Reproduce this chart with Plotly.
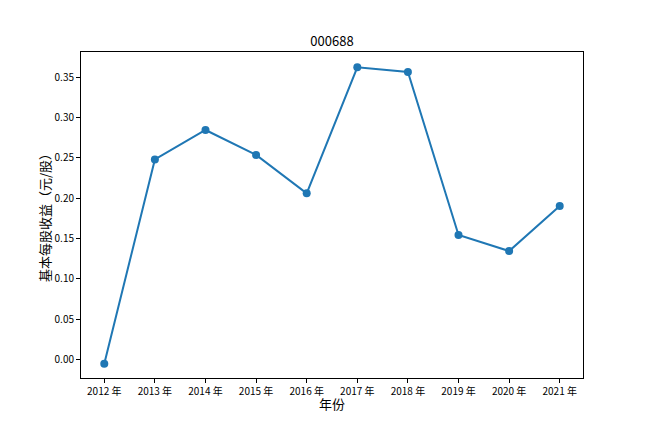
import plotly.graph_objects as go

years = ["2012 年", "2013 年", "2014 年", "2015 年", "2016 年", "2017 年", "2018 年", "2019 年", "2020 年", "2021 年"]
eps = [-0.0054, 0.248, 0.2846, 0.2536, 0.206, 0.3624, 0.3566, 0.1543, 0.1344, 0.1903]
yticks = [0.00, 0.05, 0.10, 0.15, 0.20, 0.25, 0.30, 0.35]
ytick_labels = ["0.00", "0.05", "0.10", "0.15", "0.20", "0.25", "0.30", "0.35"]

font = "Noto Sans CJK SC, DejaVu Sans, sans-serif"

# page body has 8px margin; compensate
L, T, R, B = 73, 44, 575, 370
W, H = 648, 432

fig = go.Figure(go.Scatter(
    x=list(range(len(years))), y=eps, mode="lines+markers",
    line=dict(color="#1f77b4", width=2),
    marker=dict(color="#1f77b4", size=8),
))

fig.update_layout(
    width=W, height=H,
    margin=dict(l=L, r=W - R, t=T, b=H - B),
    paper_bgcolor="white", plot_bgcolor="white",
    showlegend=False,
    font=dict(family=font, color="black", size=10),
    title=dict(text="000688", x=(L + R) / 2 / W, xanchor="center", y=1 - 33 / H, yanchor="middle",
               font=dict(size=13, family=font, color="black")),
    annotations=[
        dict(text="年份", xref="paper", yref="paper", x=0.5, y=(B - 395) / (B - T),
             xanchor="center", yanchor="middle", showarrow=False,
             font=dict(size=13, family=font, color="black")),
        dict(text="基本每股收益（元/股）", xref="paper", yref="paper", x=(36 - L) / (R - L), y=0.5,
             xanchor="center", yanchor="middle", showarrow=False, textangle=-90,
             font=dict(size=13, family=font, color="black")),
    ],
)
fig.update_xaxes(
    range=[-0.46, 9.46], tickmode="array", tickvals=list(range(len(years))), ticktext=years,
    showline=True, linecolor="black", linewidth=1, mirror=True,
    ticks="outside", ticklen=4, tickcolor="black", showgrid=False, zeroline=False,
    tickfont=dict(size=10, family=font),
)
fig.update_yaxes(
    range=[-0.0232, 0.3814], tickmode="array", tickvals=yticks, ticktext=ytick_labels,
    showline=True, linecolor="black", linewidth=1, mirror=True,
    ticks="outside", ticklen=4, tickcolor="black", showgrid=False, zeroline=False,
    tickfont=dict(size=10, family=font),
)

fig.write_html("out.html")
